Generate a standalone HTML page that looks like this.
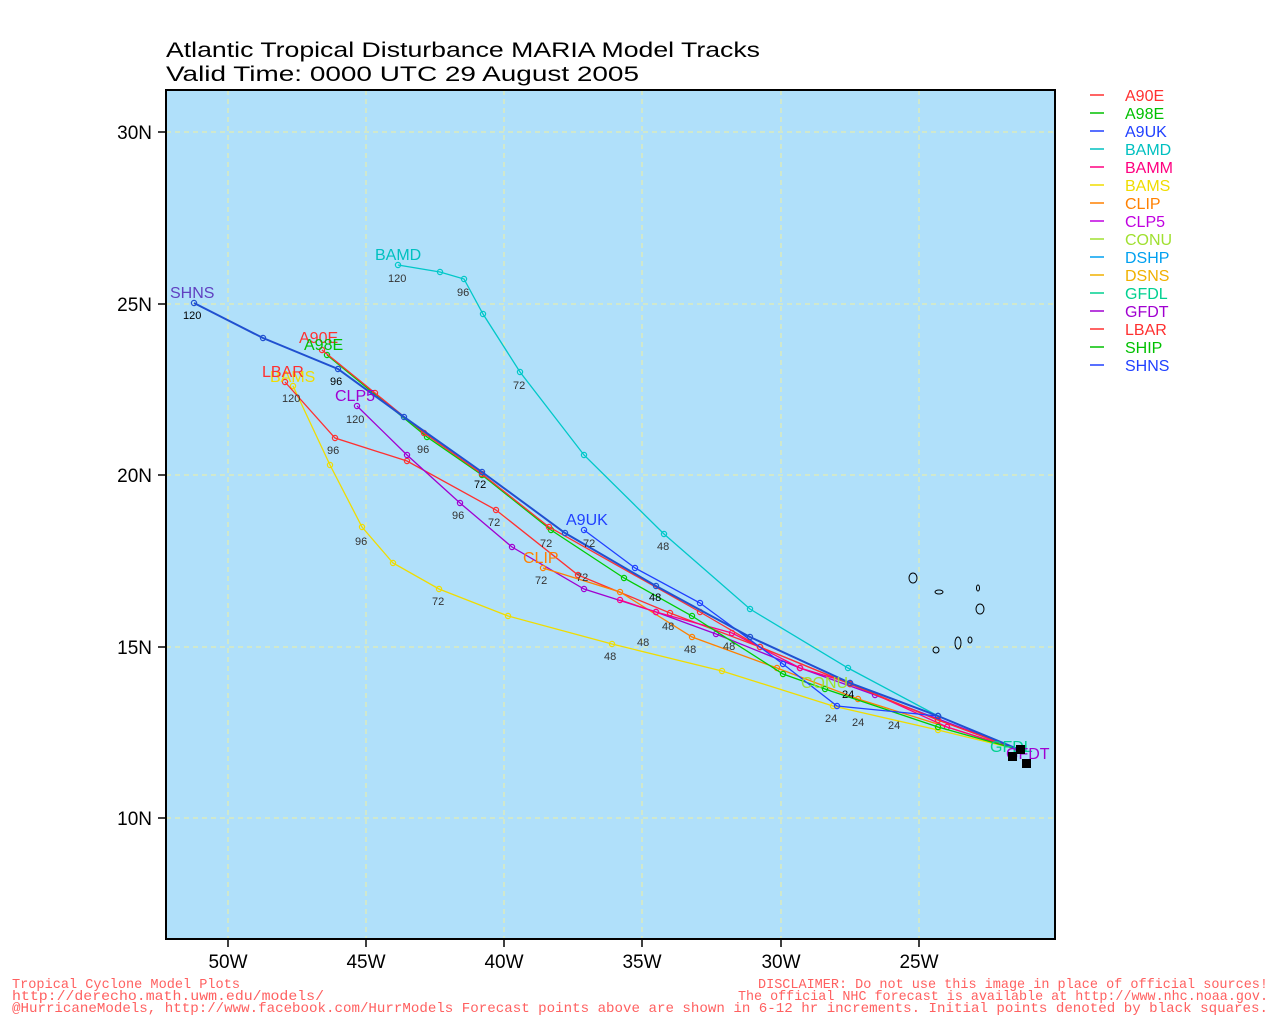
<!DOCTYPE html>
<html><head><style>
body{margin:0;background:#fff;width:1280px;height:1024px;overflow:hidden}
svg{display:block}
.s{font-family:"Liberation Sans",sans-serif}
.m{font-family:"Liberation Mono",monospace}
</style></head><body>
<svg width="1280" height="1024" xmlns="http://www.w3.org/2000/svg" class="s">
<defs>
<marker id="c1" markerWidth="8" markerHeight="8" refX="4" refY="4" markerUnits="userSpaceOnUse"><circle cx="4" cy="4" r="2.6" fill="none" stroke="#00c8c8" stroke-width="1.2"/></marker>
<marker id="c2" markerWidth="8" markerHeight="8" refX="4" refY="4" markerUnits="userSpaceOnUse"><circle cx="4" cy="4" r="2.6" fill="none" stroke="#f0dc00" stroke-width="1.2"/></marker>
<marker id="c3" markerWidth="8" markerHeight="8" refX="4" refY="4" markerUnits="userSpaceOnUse"><circle cx="4" cy="4" r="2.6" fill="none" stroke="#ff3030" stroke-width="1.2"/></marker>
<marker id="c4" markerWidth="8" markerHeight="8" refX="4" refY="4" markerUnits="userSpaceOnUse"><circle cx="4" cy="4" r="2.6" fill="none" stroke="#a000d0" stroke-width="1.2"/></marker>
<marker id="c5" markerWidth="8" markerHeight="8" refX="4" refY="4" markerUnits="userSpaceOnUse"><circle cx="4" cy="4" r="2.6" fill="none" stroke="#ff8000" stroke-width="1.2"/></marker>
<marker id="c6" markerWidth="8" markerHeight="8" refX="4" refY="4" markerUnits="userSpaceOnUse"><circle cx="4" cy="4" r="2.6" fill="none" stroke="#ff0080" stroke-width="1.2"/></marker>
<marker id="c7" markerWidth="8" markerHeight="8" refX="4" refY="4" markerUnits="userSpaceOnUse"><circle cx="4" cy="4" r="2.6" fill="none" stroke="#00cc00" stroke-width="1.2"/></marker>
<marker id="c8" markerWidth="8" markerHeight="8" refX="4" refY="4" markerUnits="userSpaceOnUse"><circle cx="4" cy="4" r="2.6" fill="none" stroke="#2040ff" stroke-width="1.2"/></marker>
<marker id="c9" markerWidth="8" markerHeight="8" refX="4" refY="4" markerUnits="userSpaceOnUse"><circle cx="4" cy="4" r="2.6" fill="none" stroke="#2050d0" stroke-width="1.2"/></marker>
</defs>
<text x="166" y="57" font-size="21" textLength="594" lengthAdjust="spacingAndGlyphs">Atlantic Tropical Disturbance MARIA Model Tracks</text>
<text x="166" y="81" font-size="21" textLength="473" lengthAdjust="spacingAndGlyphs">Valid Time: 0000 UTC 29 August 2005</text>
<rect x="166" y="90" width="889" height="849" fill="#b0e0fa"/>
<g stroke="#f0f0a0" stroke-dasharray="5,4" stroke-width="1">
<line x1="228" y1="90" x2="228" y2="939"/><line x1="366" y1="90" x2="366" y2="939"/>
<line x1="504" y1="90" x2="504" y2="939"/><line x1="642" y1="90" x2="642" y2="939"/>
<line x1="781" y1="90" x2="781" y2="939"/><line x1="919" y1="90" x2="919" y2="939"/>
<line x1="166" y1="132" x2="1055" y2="132"/><line x1="166" y1="304" x2="1055" y2="304"/>
<line x1="166" y1="475" x2="1055" y2="475"/><line x1="166" y1="647" x2="1055" y2="647"/>
<line x1="166" y1="818" x2="1055" y2="818"/>
</g>
<g fill="none" stroke-width="1.3">
<polyline stroke="#00c8c8" marker-mid="url(#c1)" marker-end="url(#c1)" points="1020,750 938,716 848,668 750,609 664,534 584,455 520,372 483,314 464,279 440,272 398,265"/>
<polyline stroke="#f0dc00" marker-mid="url(#c2)" marker-end="url(#c2)" points="1020,750 938,730 833,706 722,671 612,644 508,616 439,589 393,563 362,527 330,465 293,386"/>
<polyline stroke="#ff3030" marker-mid="url(#c3)" marker-end="url(#c3)" points="1020,750 938,720 850,684 760,647 670,613 578,575 496,510 407,461 335,438 285,382"/>
<polyline stroke="#a000d0" marker-mid="url(#c4)" marker-end="url(#c4)" points="1020,750 875,695 800,668 716,634 656,612 584,589 512,547 460,503 407,455 357,406"/>
<polyline stroke="#ff8000" marker-mid="url(#c5)" marker-end="url(#c5)" points="1020,750 858,699 777,668 692,637 620,592 543,568"/>
<polyline stroke="#ff0080" marker-mid="url(#c6)" marker-end="url(#c6)" points="1020,750 947,727 850,683 800,668 732,633 656,612 620,600"/>
<polyline stroke="#00cc00" marker-mid="url(#c7)" marker-end="url(#c7)" points="1020,750 938,727 825,689 783,674 692,616 624,578 551,530 482,475 427,437 327,355"/>
<polyline stroke="#ff3030" marker-mid="url(#c3)" marker-end="url(#c3)" points="1020,750 938,720 850,684 760,647 700,612 549,527 482,474 424,433 375,393 322,350"/>
<polyline stroke="#2040ff" marker-mid="url(#c8)" marker-end="url(#c8)" points="1020,750 938,716 837,706 783,664 700,603 635,568 584,530"/>
<polyline stroke="#2050d0" stroke-width="2" marker-mid="url(#c9)" marker-end="url(#c9)" points="1020,750 938,716 850,683 750,637 656,586 565,533 482,472 404,417 338,369 263,338 194,303"/>
</g>
<g font-size="11" fill="#333">
<text x="388" y="282">120</text><text x="457" y="296">96</text><text x="513" y="389">72</text><text x="657" y="550">48</text>
<text x="183" y="319" fill="#000">120</text><text x="330" y="385" fill="#000">96</text><text x="474" y="488" fill="#000">72</text><text x="649" y="601" fill="#000">48</text><text x="842" y="698" fill="#000">24</text>
<text x="282" y="402">120</text><text x="327" y="454">96</text><text x="488" y="526">72</text><text x="662" y="630">48</text><text x="825" y="722">24</text>
<text x="346" y="423">120</text><text x="452" y="519">96</text><text x="576" y="581">72</text><text x="637" y="646">48</text><text x="888" y="729">24</text>
<text x="355" y="545">96</text><text x="432" y="605">72</text><text x="604" y="660">48</text><text x="535" y="584">72</text><text x="684" y="653">48</text>
<text x="583" y="547">72</text><text x="417" y="453">96</text><text x="540" y="547">72</text><text x="723" y="650">48</text><text x="852" y="726">24</text>
</g>
<g font-size="16">
<text x="375" y="260" fill="#00c0c0">BAMD</text>
<text x="170" y="298" fill="#6040c0">SHNS</text>
<text x="299" y="343" fill="#ff3030">A90E</text>
<text x="304" y="350" fill="#00c000">A98E</text>
<text x="270" y="382" fill="#f0dc00">BAMS</text>
<text x="262" y="377" fill="#ff3030">LBAR</text>
<text x="335" y="401" fill="#a000d0">CLP5</text>
<text x="566" y="525" fill="#2040ff">A9UK</text>
<text x="523" y="563" fill="#ff8000">CLIP</text>
<text x="801" y="688" fill="#a0e030">CONU</text>
<text x="990" y="752" fill="#00d090">GFDL</text>
<text x="1006" y="759" fill="#a000d0">GFDT</text>
</g>
<rect x="1016" y="745" width="9" height="9"/><rect x="1008" y="752" width="9" height="9"/><rect x="1022" y="759" width="9" height="9"/>
<g fill="none" stroke="#000" stroke-width="1">
<ellipse cx="913" cy="578" rx="4" ry="5"/><ellipse cx="939" cy="592" rx="4" ry="2"/><ellipse cx="978" cy="588" rx="1.5" ry="3"/>
<ellipse cx="980" cy="609" rx="4" ry="5"/><ellipse cx="958" cy="643" rx="3" ry="6"/><ellipse cx="970" cy="640" rx="2" ry="3"/><ellipse cx="936" cy="650" rx="3" ry="3"/>
</g>
<rect x="166" y="90" width="889" height="849" fill="none" stroke="#000" stroke-width="2"/>
<g stroke="#000" stroke-width="1.5">
<line x1="228" y1="939" x2="228" y2="947"/><line x1="366" y1="939" x2="366" y2="947"/><line x1="504" y1="939" x2="504" y2="947"/>
<line x1="642" y1="939" x2="642" y2="947"/><line x1="781" y1="939" x2="781" y2="947"/><line x1="919" y1="939" x2="919" y2="947"/>
<line x1="158" y1="132" x2="166" y2="132"/><line x1="158" y1="304" x2="166" y2="304"/><line x1="158" y1="475" x2="166" y2="475"/>
<line x1="158" y1="647" x2="166" y2="647"/><line x1="158" y1="818" x2="166" y2="818"/>
</g>
<g font-size="19" text-anchor="middle">
<text x="228" y="968">50W</text><text x="366" y="968">45W</text><text x="504" y="968">40W</text>
<text x="642" y="968">35W</text><text x="781" y="968">30W</text><text x="919" y="968">25W</text>
</g>
<g font-size="19" text-anchor="end">
<text x="152" y="139">30N</text><text x="152" y="311">25N</text><text x="152" y="482">20N</text>
<text x="152" y="654">15N</text><text x="152" y="825">10N</text>
</g>
<g font-size="16">
<g stroke-width="1.5">
<line x1="1090" y1="95" x2="1104" y2="95" stroke="#ff3030"/><line x1="1090" y1="113" x2="1104" y2="113" stroke="#00c000"/>
<line x1="1090" y1="131" x2="1104" y2="131" stroke="#2040ff"/><line x1="1090" y1="149" x2="1104" y2="149" stroke="#00c0c0"/>
<line x1="1090" y1="167" x2="1104" y2="167" stroke="#ff0080"/><line x1="1090" y1="185" x2="1104" y2="185" stroke="#f0dc00"/>
<line x1="1090" y1="203" x2="1104" y2="203" stroke="#ff8000"/><line x1="1090" y1="221" x2="1104" y2="221" stroke="#c000e0"/>
<line x1="1090" y1="239" x2="1104" y2="239" stroke="#a0e030"/><line x1="1090" y1="257" x2="1104" y2="257" stroke="#00a0f0"/>
<line x1="1090" y1="275" x2="1104" y2="275" stroke="#f0b000"/><line x1="1090" y1="293" x2="1104" y2="293" stroke="#00d090"/>
<line x1="1090" y1="311" x2="1104" y2="311" stroke="#a000d0"/><line x1="1090" y1="329" x2="1104" y2="329" stroke="#ff3030"/>
<line x1="1090" y1="347" x2="1104" y2="347" stroke="#00c000"/><line x1="1090" y1="365" x2="1104" y2="365" stroke="#2040ff"/>
</g>
<text x="1125" y="101" fill="#ff3030">A90E</text><text x="1125" y="119" fill="#00c000">A98E</text>
<text x="1125" y="137" fill="#2040ff">A9UK</text><text x="1125" y="155" fill="#00c0c0">BAMD</text>
<text x="1125" y="173" fill="#ff0080">BAMM</text><text x="1125" y="191" fill="#f0dc00">BAMS</text>
<text x="1125" y="209" fill="#ff8000">CLIP</text><text x="1125" y="227" fill="#c000e0">CLP5</text>
<text x="1125" y="245" fill="#a0e030">CONU</text><text x="1125" y="263" fill="#00a0f0">DSHP</text>
<text x="1125" y="281" fill="#f0b000">DSNS</text><text x="1125" y="299" fill="#00d090">GFDL</text>
<text x="1125" y="317" fill="#a000d0">GFDT</text><text x="1125" y="335" fill="#ff3030">LBAR</text>
<text x="1125" y="353" fill="#00c000">SHIP</text><text x="1125" y="371" fill="#2040ff">SHNS</text>
</g>
<g font-size="14" fill="#ff6060" class="m">
<text x="12" y="988" textLength="228" lengthAdjust="spacingAndGlyphs">Tropical Cyclone Model Plots</text>
<text x="12" y="1000" textLength="312" lengthAdjust="spacingAndGlyphs">http://derecho.math.uwm.edu/models/</text>
<text x="12" y="1012" textLength="1256" lengthAdjust="spacingAndGlyphs">@HurricaneModels, http://www.facebook.com/HurrModels  Forecast points above are shown in 6-12 hr increments. Initial points denoted by black squares.</text>
<text x="758" y="988" textLength="510" lengthAdjust="spacingAndGlyphs">DISCLAIMER: Do not use this image in place of official sources!</text>
<text x="738" y="1000" textLength="530" lengthAdjust="spacingAndGlyphs">The official NHC forecast is available at http://www.nhc.noaa.gov.</text>
</g>
</svg>
</body></html>
